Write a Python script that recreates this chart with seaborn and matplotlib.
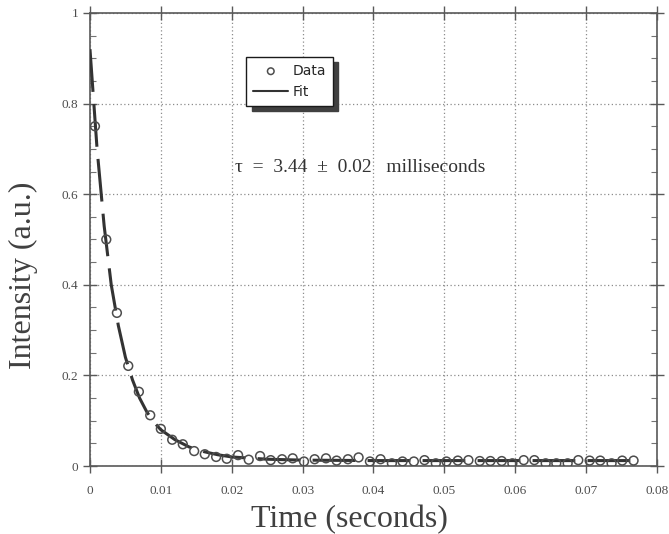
import numpy as np
import pandas as pd
import matplotlib
matplotlib.use("Agg")
import matplotlib.pyplot as plt
import seaborn as sns
from matplotlib.ticker import MultipleLocator

# measured decay (seconds, a.u.)
data_t = [0.0007, 0.0023, 0.0038, 0.0054, 0.0069, 0.0085, 0.0100, 0.0116, 0.0131, 0.0147,
          0.0162, 0.0178, 0.0193, 0.0209, 0.0224, 0.0240, 0.0255, 0.0271, 0.0286, 0.0302,
          0.0317, 0.0333, 0.0348, 0.0364, 0.0379, 0.0395, 0.0410, 0.0426, 0.0441, 0.0457,
          0.0472, 0.0488, 0.0503, 0.0519, 0.0534, 0.0550, 0.0565, 0.0581, 0.0596, 0.0612,
          0.0627, 0.0643, 0.0658, 0.0674, 0.0689, 0.0705, 0.0720, 0.0736, 0.0751, 0.0767]
data_y = [0.750, 0.500, 0.338, 0.221, 0.164, 0.112, 0.082, 0.058, 0.048, 0.033,
          0.026, 0.020, 0.016, 0.024, 0.014, 0.022, 0.013, 0.015, 0.017, 0.010,
          0.015, 0.017, 0.012, 0.015, 0.019, 0.010, 0.015, 0.006, 0.010, 0.010,
          0.013, 0.006, 0.010, 0.012, 0.013, 0.011, 0.011, 0.011, 0.006, 0.013,
          0.013, 0.006, 0.006, 0.006, 0.013, 0.012, 0.012, 0.006, 0.012, 0.012]

# fitted curve
fit_t = [0.0, 0.001, 0.002, 0.003, 0.004, 0.005, 0.006, 0.007, 0.008, 0.009, 0.010,
         0.012, 0.014, 0.016, 0.018, 0.020, 0.025, 0.030, 0.040, 0.050, 0.060, 0.070, 0.0776]
fit_y = [0.92, 0.70, 0.53, 0.40, 0.31, 0.24, 0.19, 0.15, 0.12, 0.097, 0.080,
         0.058, 0.042, 0.032, 0.025, 0.020, 0.015, 0.013, 0.012, 0.012, 0.012, 0.012, 0.012]

x_ticks = [0, 0.01, 0.02, 0.03, 0.04, 0.05, 0.06, 0.07, 0.08]
x_labels = ["0", "0.01", "0.02", "0.03", "0.04", "0.05", "0.06", "0.07", "0.08"]
y_ticks = [0, 0.2, 0.4, 0.6, 0.8, 1]
y_labels = ["0", "0.2", "0.4", "0.6", "0.8", "1"]

df = pd.DataFrame({"t": data_t, "y": data_y})
fit = pd.DataFrame({"t": fit_t, "y": fit_y})

sns.set_theme(style="ticks")
plt.rcParams["font.family"] = ["Liberation Serif", "DejaVu Serif"]

fig = plt.figure(figsize=(6.69, 5.34), dpi=100)
ax = fig.add_axes([0.1345, 0.1273, 0.8475, 0.8484])

ax.grid(True, color="0.55", linestyle=(0, (1, 2)), linewidth=0.9)

sns.lineplot(data=fit, x="t", y="y", ax=ax, color="0.2", linewidth=2.2,
             dashes=False, label="Fit", legend=False, zorder=3)
ax.lines[-1].set_dashes((14, 4))
sns.scatterplot(data=df, x="t", y="y", ax=ax, marker="o", s=40,
                facecolor="none", edgecolor="0.3", linewidth=1.1,
                label="Data", legend=False, zorder=4)

ax.set_xlim(0, 0.08)
ax.set_ylim(0, 1)
ax.set_xticks(x_ticks)
ax.set_xticklabels(x_labels)
ax.set_yticks(y_ticks)
ax.set_yticklabels(y_labels)
ax.yaxis.set_minor_locator(MultipleLocator(0.05))

for s in ax.spines.values():
    s.set_color("0.35")
    s.set_linewidth(1.2)
ax.tick_params(which="major", direction="inout", length=10, width=1.0, color="0.35",
               top=True, right=True, labelsize=9.5, labelcolor="0.3")
ax.tick_params(axis="x", which="major", pad=9)
ax.tick_params(which="minor", direction="in", length=4, width=0.8, color="0.45",
               right=True, left=True)

ax.set_xlabel("Time (seconds)", fontsize=23, color="0.25", va="center")
ax.set_ylabel("Intensity (a.u.)", fontsize=23, color="0.25", va="center")
ax.xaxis.set_label_coords(0.457, -0.119)
ax.yaxis.set_label_coords(-0.118, 0.42)

ax.text(0.0205, 0.66, "τ  =  3.44  ±  0.02   milliseconds", fontsize=14,
        color="0.2", va="center", ha="left")

h, l = ax.get_legend_handles_labels()
order = [l.index("Data"), l.index("Fit")]
leg = ax.legend([h[i] for i in order], [l[i] for i in order],
                loc="upper left", bbox_to_anchor=(0.276, 0.903),
                frameon=True, fancybox=False, edgecolor="0.1", framealpha=1,
                shadow={"ox": 4, "oy": -4, "color": "0.25", "alpha": 1},
                prop={"family": "DejaVu Sans", "size": 10},
                handlelength=2.5, handletextpad=0.3, borderpad=0.5,
                labelspacing=0.5, borderaxespad=0, markerscale=0.75)
for ln in leg.get_lines():
    ln.set_linestyle("-")
    ln.set_linewidth(1.5)

fig.savefig("out.png", dpi=100)
